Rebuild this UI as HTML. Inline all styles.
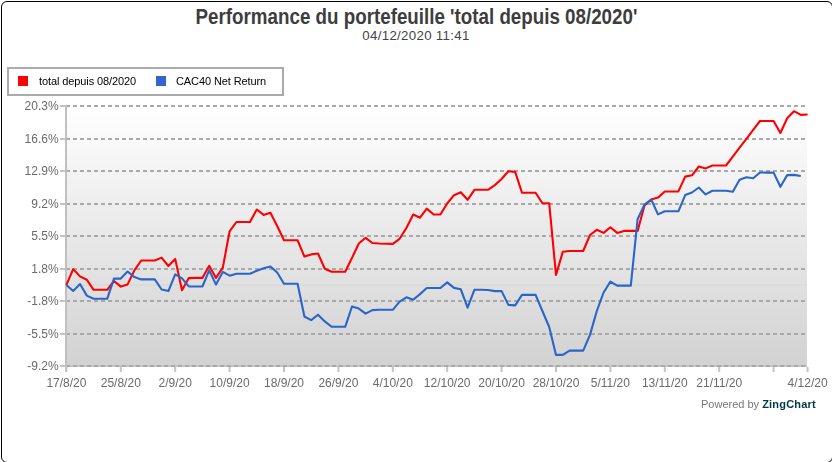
<!DOCTYPE html>
<html><head><meta charset="utf-8"><style>
html,body{margin:0;padding:0;background:#fff;}
#legend,svg{will-change:transform;}
body{width:832px;height:462px;overflow:hidden;position:relative;font-family:"Liberation Sans",sans-serif;}
#frame{position:absolute;left:1px;top:1px;width:832px;height:462px;box-sizing:border-box;border:1px solid #000;border-radius:6px;}
#title{position:absolute;left:0;width:833px;top:5px;text-align:center;font-weight:bold;font-size:21.5px;color:#3d3d3d;white-space:nowrap;transform:scaleX(0.873);transform-origin:416.5px 0;}
#sub{position:absolute;left:0;width:832px;top:28px;text-align:center;font-size:13.3px;letter-spacing:0.3px;color:#444;white-space:nowrap;}
#legend{position:absolute;left:7px;top:67px;width:277px;height:29px;box-sizing:border-box;border:2px solid #aaabaf;background:#fff;}
.li{position:absolute;top:0;font-size:11px;letter-spacing:-0.1px;color:#000;line-height:25px;white-space:nowrap;}
.sq{position:absolute;top:8px;width:10px;height:10px;}
svg{position:absolute;left:0;top:0;}
.ax{font-family:"Liberation Sans",sans-serif;font-size:12px;fill:#6b6b6b;}
.pw{font-family:"Liberation Sans",sans-serif;font-size:11px;fill:#777;}
.zc{font-weight:bold;fill:#003849;letter-spacing:0.2px;}
</style></head><body>
<div id="frame"></div>
<div id="title">Performance du portefeuille 'total depuis 08/2020'</div>
<div id="sub">04/12/2020 11:41</div>
<div id="legend">
<div class="sq" style="left:9.3px;top:7.2px;background:#ff0000"></div>
<div class="li" style="left:30px">total depuis 08/2020</div>
<div class="sq" style="left:146.6px;top:7.2px;background:#3366cc"></div>
<div class="li" style="left:167px">CAC40 Net Return</div>
</div>
<svg width="832" height="462" viewBox="0 0 832 462">
<defs><linearGradient id="bg" x1="0" y1="0" x2="0" y2="1"><stop offset="0" stop-color="#ffffff"/><stop offset="1" stop-color="#d2d2d2"/></linearGradient></defs>
<rect x="66" y="106" width="741" height="260" fill="url(#bg)"/>
<rect x="66" y="284" width="741" height="2" fill="#d7dad7" opacity="0.85"/>
<rect x="66" y="365" width="741" height="2" fill="#c4c4c4"/>
<line x1="66" y1="106" x2="805" y2="106" stroke="#a9a9a9" stroke-width="2" stroke-dasharray="4 3"/>
<line x1="66" y1="139" x2="805" y2="139" stroke="#a9a9a9" stroke-width="2" stroke-dasharray="4 3"/>
<line x1="66" y1="171" x2="805" y2="171" stroke="#a9a9a9" stroke-width="2" stroke-dasharray="4 3"/>
<line x1="66" y1="204" x2="805" y2="204" stroke="#a9a9a9" stroke-width="2" stroke-dasharray="4 3"/>
<line x1="66" y1="236" x2="805" y2="236" stroke="#a9a9a9" stroke-width="2" stroke-dasharray="4 3"/>
<line x1="66" y1="269" x2="805" y2="269" stroke="#a9a9a9" stroke-width="2" stroke-dasharray="4 3"/>
<line x1="66" y1="301" x2="805" y2="301" stroke="#a9a9a9" stroke-width="2" stroke-dasharray="4 3"/>
<line x1="66" y1="334" x2="805" y2="334" stroke="#a9a9a9" stroke-width="2" stroke-dasharray="4 3"/>
<line x1="66" y1="366" x2="805" y2="366" stroke="#a9a9a9" stroke-width="2" stroke-dasharray="4 3"/>
<rect x="60" y="105" width="6" height="2" fill="#c4c4c4"/>
<rect x="60" y="138" width="6" height="2" fill="#c4c4c4"/>
<rect x="60" y="170" width="6" height="2" fill="#c4c4c4"/>
<rect x="60" y="203" width="6" height="2" fill="#c4c4c4"/>
<rect x="60" y="235" width="6" height="2" fill="#c4c4c4"/>
<rect x="60" y="268" width="6" height="2" fill="#c4c4c4"/>
<rect x="60" y="300" width="6" height="2" fill="#c4c4c4"/>
<rect x="60" y="333" width="6" height="2" fill="#c4c4c4"/>
<rect x="60" y="365" width="6" height="2" fill="#c4c4c4"/>
<rect x="65" y="105" width="2" height="267" fill="#c0c0c0"/>
<rect x="65.4" y="367" width="2" height="5" fill="#c4c4c4"/>
<rect x="119.8" y="367" width="2" height="5" fill="#c4c4c4"/>
<rect x="174.2" y="367" width="2" height="5" fill="#c4c4c4"/>
<rect x="228.6" y="367" width="2" height="5" fill="#c4c4c4"/>
<rect x="283.0" y="367" width="2" height="5" fill="#c4c4c4"/>
<rect x="337.4" y="367" width="2" height="5" fill="#c4c4c4"/>
<rect x="391.8" y="367" width="2" height="5" fill="#c4c4c4"/>
<rect x="446.2" y="367" width="2" height="5" fill="#c4c4c4"/>
<rect x="500.6" y="367" width="2" height="5" fill="#c4c4c4"/>
<rect x="555.0" y="367" width="2" height="5" fill="#c4c4c4"/>
<rect x="609.4" y="367" width="2" height="5" fill="#c4c4c4"/>
<rect x="663.8" y="367" width="2" height="5" fill="#c4c4c4"/>
<rect x="718.2" y="367" width="2" height="5" fill="#c4c4c4"/>
<rect x="772.6" y="367" width="2" height="5" fill="#c4c4c4"/>
<rect x="806.6" y="367" width="2" height="5" fill="#c4c4c4"/>
<text x="58.6" y="110.3" text-anchor="end" class="ax">20.3%</text>
<text x="58.6" y="143.3" text-anchor="end" class="ax">16.6%</text>
<text x="58.6" y="175.3" text-anchor="end" class="ax">12.9%</text>
<text x="58.6" y="208.3" text-anchor="end" class="ax">9.2%</text>
<text x="58.6" y="240.3" text-anchor="end" class="ax">5.5%</text>
<text x="58.6" y="273.3" text-anchor="end" class="ax">1.8%</text>
<text x="58.6" y="305.3" text-anchor="end" class="ax">-1.8%</text>
<text x="58.6" y="338.3" text-anchor="end" class="ax">-5.5%</text>
<text x="58.6" y="370.3" text-anchor="end" class="ax">-9.2%</text>
<text x="66.4" y="386.5" text-anchor="middle" class="ax">17/8/20</text>
<text x="120.8" y="386.5" text-anchor="middle" class="ax">25/8/20</text>
<text x="175.2" y="386.5" text-anchor="middle" class="ax">2/9/20</text>
<text x="229.6" y="386.5" text-anchor="middle" class="ax">10/9/20</text>
<text x="284.0" y="386.5" text-anchor="middle" class="ax">18/9/20</text>
<text x="338.4" y="386.5" text-anchor="middle" class="ax">26/9/20</text>
<text x="392.8" y="386.5" text-anchor="middle" class="ax">4/10/20</text>
<text x="447.2" y="386.5" text-anchor="middle" class="ax">12/10/20</text>
<text x="501.6" y="386.5" text-anchor="middle" class="ax">20/10/20</text>
<text x="556.0" y="386.5" text-anchor="middle" class="ax">28/10/20</text>
<text x="610.4" y="386.5" text-anchor="middle" class="ax">5/11/20</text>
<text x="664.8" y="386.5" text-anchor="middle" class="ax">13/11/20</text>
<text x="719.2" y="386.5" text-anchor="middle" class="ax">21/11/20</text>
<text x="807.6" y="386.5" text-anchor="middle" class="ax">4/12/20</text>
<polyline points="66.4,284.8 73.2,269.1 80.0,276.4 86.8,279.7 93.6,289.8 100.4,289.8 107.2,289.8 114.0,281.0 120.8,286.6 127.6,284.4 134.4,270.4 141.2,260.5 148.0,260.5 154.8,260.5 161.6,257.6 168.4,266.0 175.2,258.9 182.0,290.3 188.8,278.1 195.6,277.9 202.4,277.9 209.2,265.8 216.0,277.9 222.8,267.6 229.6,231.4 236.4,222.0 243.2,222.0 250.0,222.0 256.8,209.5 263.6,214.9 270.4,212.8 277.2,226.0 284.0,240.3 290.8,240.3 297.6,240.3 304.4,256.5 311.2,254.4 318.0,253.5 324.8,268.8 331.6,271.7 338.4,271.7 345.2,271.7 352.0,257.9 358.8,243.5 365.6,237.8 372.4,243.0 379.2,243.5 386.0,243.7 392.8,243.9 399.6,238.8 406.4,228.0 413.2,214.5 420.0,217.7 426.8,208.6 433.6,214.5 440.4,214.5 447.2,203.5 454.0,195.2 460.8,192.3 467.6,199.8 474.4,189.8 481.2,189.8 488.0,189.8 494.8,185.1 501.6,179.0 508.4,171.2 515.2,171.9 522.0,192.8 528.8,192.8 535.6,192.8 542.4,203.2 549.2,203.2 556.0,275.0 562.8,251.8 569.6,251.0 576.4,251.0 583.2,251.0 590.0,235.0 596.8,229.8 603.6,232.9 610.4,227.3 617.2,232.9 624.0,230.9 630.8,230.9 637.6,230.9 644.4,205.7 651.2,199.5 658.0,197.6 664.8,191.5 671.6,191.5 678.4,191.4 685.2,176.6 692.0,175.3 698.8,166.5 705.6,168.4 712.4,165.5 719.2,165.5 726.0,165.5 732.8,156.6 739.6,147.7 746.4,138.8 753.2,129.9 760.0,121.0 766.8,121.0 773.6,121.0 780.4,133.0 787.2,118.2 794.0,111.2 800.8,114.9 807.6,114.5" fill="none" stroke="#ff0000" stroke-width="2.1" stroke-linejoin="round"/>
<polyline points="66.4,285.0 73.2,291.0 80.0,284.0 86.8,295.6 93.6,298.8 100.4,298.8 107.2,298.8 114.0,278.6 120.8,278.6 127.6,271.5 134.4,277.1 141.2,279.4 148.0,279.4 154.8,279.4 161.6,289.5 168.4,291.1 175.2,274.4 182.0,278.4 188.8,286.4 195.6,286.5 202.4,286.5 209.2,270.3 216.0,284.6 222.8,271.9 229.6,275.7 236.4,273.8 243.2,273.8 250.0,273.7 256.8,270.7 263.6,268.2 270.4,266.5 277.2,272.5 284.0,283.7 290.8,283.7 297.6,283.7 304.4,316.5 311.2,320.1 318.0,314.7 324.8,321.4 331.6,326.8 338.4,326.8 345.2,326.8 352.0,306.5 358.8,308.6 365.6,313.6 372.4,310.1 379.2,309.8 386.0,309.8 392.8,309.8 399.6,301.6 406.4,297.3 413.2,299.8 420.0,294.1 426.8,288.0 433.6,288.0 440.4,288.0 447.2,282.4 454.0,287.9 460.8,289.3 467.6,307.7 474.4,289.8 481.2,289.8 488.0,290.0 494.8,291.1 501.6,291.1 508.4,304.9 515.2,305.4 522.0,294.9 528.8,294.9 535.6,294.9 542.4,311.0 549.2,327.0 556.0,354.9 562.8,354.9 569.6,350.6 576.4,350.6 583.2,350.6 590.0,334.9 596.8,311.0 603.6,292.5 610.4,281.6 617.2,285.6 624.0,285.6 630.8,285.6 637.6,219.2 644.4,204.6 651.2,199.5 658.0,214.4 664.8,211.3 671.6,211.3 678.4,211.3 685.2,195.1 692.0,192.5 698.8,187.5 705.6,194.4 712.4,190.8 719.2,190.8 726.0,190.8 732.8,191.8 739.6,179.7 746.4,177.2 753.2,178.3 760.0,172.5 766.8,172.6 773.6,172.6 780.4,186.8 787.2,175.1 794.0,174.9 800.8,176.0" fill="none" stroke="#2a66c9" stroke-width="2.1" stroke-linejoin="round"/>
<text x="701" y="408" class="pw">Powered by <tspan class="zc">ZingChart</tspan></text>
</svg>
</body></html>
